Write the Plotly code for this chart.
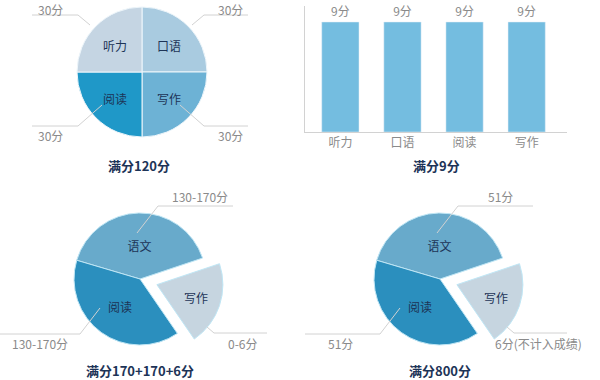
import plotly.graph_objects as go

# ---------------- data ----------------
# clockwise from 12 o'clock
ielts_sections = ["口语", "写作", "阅读", "听力"]
ielts_shares = [30, 30, 30, 30]
ielts_labels = ["30分", "30分", "30分", "30分"]

bar_categories = ["听力", "口语", "阅读", "写作"]
bar_values = [9, 9, 9, 9]
bar_texts = ["9分", "9分", "9分", "9分"]

sat_sections = ["语文", "写作", "阅读"]
sat_shares = [145, 74, 141]          # visual slice sizes (degrees)
sat_old_labels = ["130-170分", "0-6分", "130-170分"]
sat_new_labels = ["51分", "6分(不计入成绩)", "51分"]

titles = ["满分120分", "满分9分", "满分170+170+6分", "满分800分"]

# ---------------- style ----------------
W, H = 600, 380
FONT = "Noto Sans CJK SC"
NAVY = "#1d3457"
GRAY = "#8a8a8a"
LINE = "#d2d2d2"


def X(px):
    return px / W


def Y(py):
    return 1 - py / H


fig = go.Figure()

# top-left pie
fig.add_trace(go.Pie(
    labels=ielts_sections, values=ielts_shares, sort=False,
    direction="clockwise", rotation=0,
    marker=dict(colors=["#a9cbe0", "#6db2d5", "#1f98c8", "#c5d5e3"],
                line=dict(color="#eef6fb", width=1)),
    textinfo="label", textposition="inside", insidetextorientation="horizontal",
    textfont=dict(family=FONT, size=12, color=NAVY),
    domain=dict(x=[X(142 - 65), X(142 + 65)], y=[Y(72 + 65), Y(72 - 65)]),
    showlegend=False, hoverinfo="label+value",
))

# bottom pies
for cx in (140, 440):
    half = 66 * 1.27
    fig.add_trace(go.Pie(
        labels=sat_sections, values=sat_shares, sort=False,
        direction="clockwise", rotation=-73.5,
        pull=[0, 0.27, 0],
        marker=dict(colors=["#68aacb", "#c6d5e0", "#2b8fbe"],
                    line=dict(color="#bfe6f5", width=1)),
        textinfo="label", textposition="inside", insidetextorientation="horizontal",
        textfont=dict(family=FONT, size=12, color=NAVY),
        domain=dict(x=[X(cx - half), X(cx + half)], y=[Y(279 + half), Y(279 - half)]),
        showlegend=False, hoverinfo="label",
    ))

# bar chart
fig.add_trace(go.Bar(
    x=bar_categories, y=bar_values, text=bar_texts, textposition="outside",
    textfont=dict(family=FONT, size=12, color=GRAY), cliponaxis=False,
    marker=dict(color="#74bde0"), width=0.6, showlegend=False,
))

fig.update_xaxes(domain=[X(305), X(567)], range=[-0.57, 3.65],
                 showline=True, linecolor=LINE, linewidth=1,
                 showgrid=False, zeroline=False, ticks="",
                 tickfont=dict(family=FONT, size=12, color=GRAY), anchor="y")
fig.update_yaxes(domain=[Y(132), Y(6)], range=[0, 9 * 126 / 110],
                 showline=True, linecolor=LINE, linewidth=1,
                 showgrid=False, zeroline=False, showticklabels=False, ticks="")

# leader lines + value annotations
shapes = []
annotations = []


def leader(points, label, lx, ly, yanchor="middle"):
    path = "M " + " L ".join(f"{X(px)},{Y(py)}" for px, py in points)
    shapes.append(dict(type="path", path=path, xref="paper", yref="paper",
                       line=dict(color=LINE, width=1)))
    annotations.append(dict(x=X(lx), y=Y(ly), xref="paper", yref="paper",
                            xanchor="center", yanchor=yanchor,
                            text=label, showarrow=False, borderpad=0,
                            font=dict(family=FONT, size=12, color=GRAY)))


leader([(90, 25), (78, 15), (32, 15)], ielts_labels[3], 50, 0, "top")
leader([(192, 25), (204, 15), (248, 15)], ielts_labels[0], 230, 0, "top")
leader([(102, 105), (78, 126), (32, 126)], ielts_labels[2], 50, 135)
leader([(180, 105), (204, 126), (248, 126)], ielts_labels[1], 230, 135)

for dx, labels, left_end, right_end, lab_x in [
        (0, sat_old_labels, 0, 267, (200, 40, 242)),
        (300, sat_new_labels, 305, 567, (500, 340, 538))]:
    leader([(137 + dx, 233), (158 + dx, 206), (233 + dx, 206)], labels[0], lab_x[0], 197)
    leader([(100 + dx, 308), (80 + dx, 334), (left_end, 334)], labels[2], lab_x[1], 343)
    leader([(207 + dx, 327), (214 + dx, 333), (right_end, 333)], labels[1], lab_x[2], 343)

for t, (tx, ty) in zip(titles, [(139, 165), (436, 165), (140, 370), (440, 370)]):
    annotations.append(dict(x=X(tx), y=Y(ty), xref="paper", yref="paper",
                            xanchor="center", yanchor="middle",
                            text=f"<b>{t}</b>", showarrow=False,
                            font=dict(family=FONT, size=13, color=NAVY)))

fig.update_layout(
    width=W, height=H, margin=dict(l=0, r=0, t=0, b=0),
    paper_bgcolor="white", plot_bgcolor="white",
    shapes=shapes, annotations=annotations, bargap=0.4,
)

fig.write_html("out.html")
